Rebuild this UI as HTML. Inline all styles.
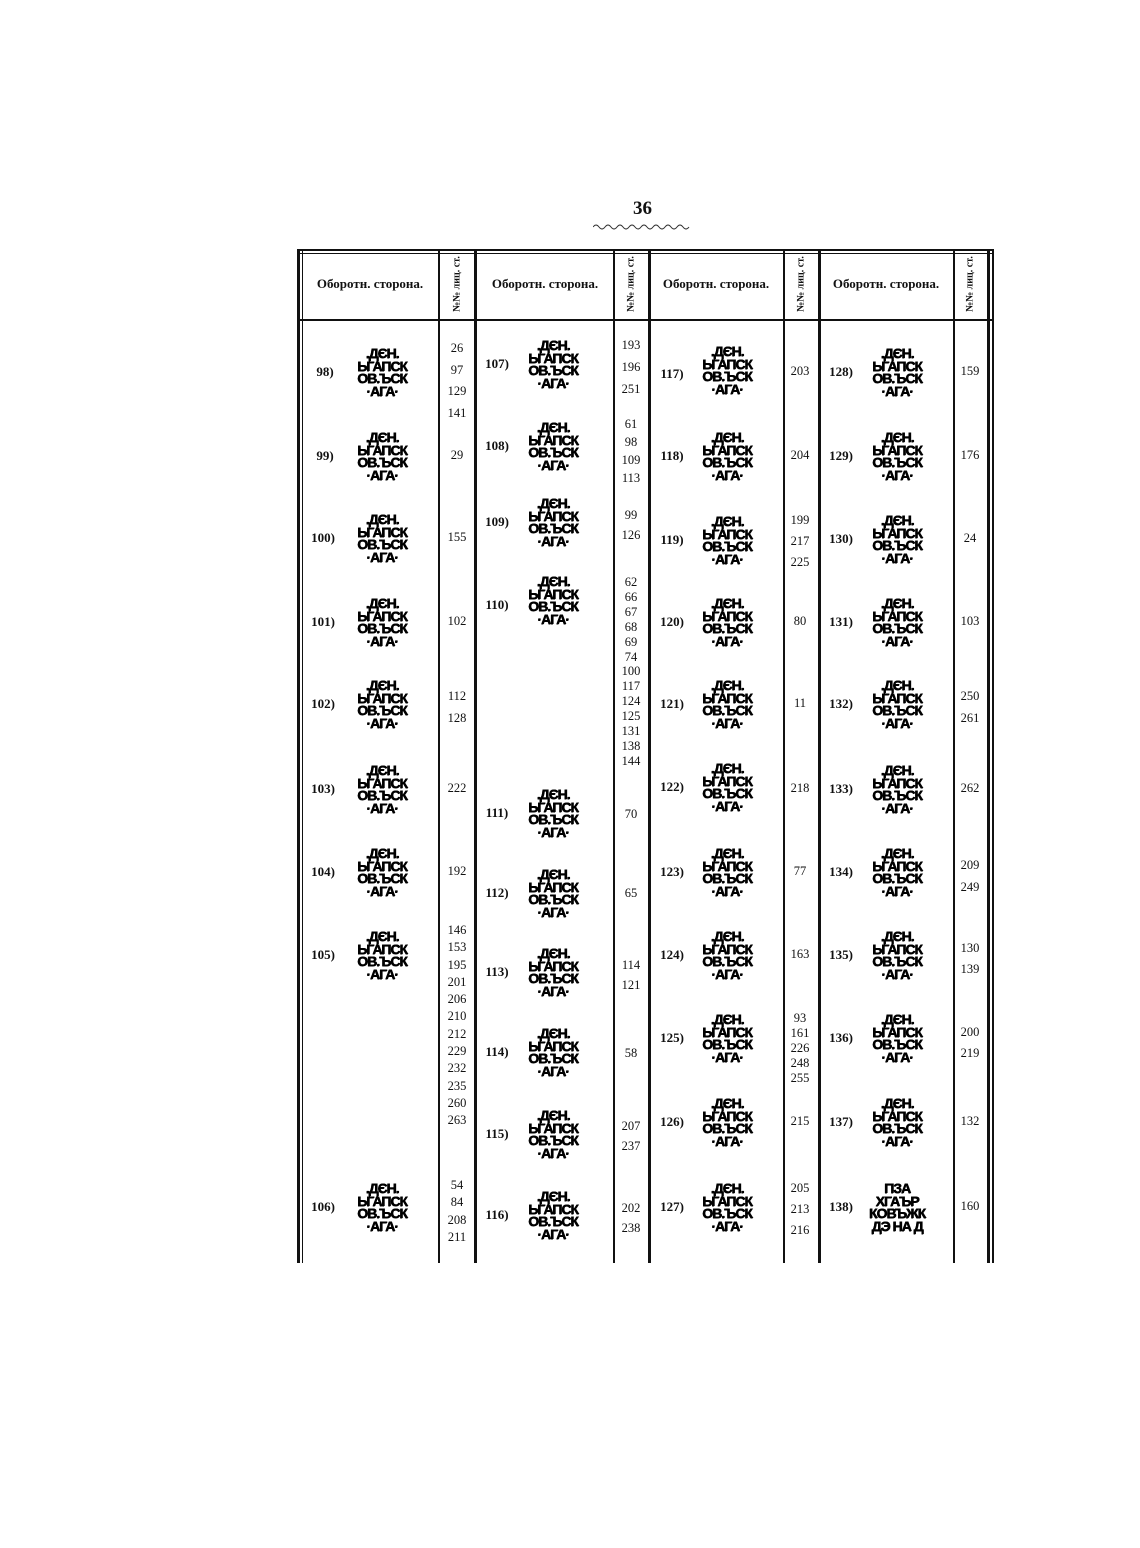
<!DOCTYPE html>
<html><head><meta charset="utf-8"><style>
body{margin:0;width:1140px;height:1548px;background:#fff;position:relative;overflow:hidden;font-family:"Liberation Serif",serif;color:#111}
.v{position:absolute;background:#111;top:249px;height:1014px}
.h{position:absolute;background:#111;left:298px;width:695px}
.t{position:absolute;font-size:13px;font-weight:bold;transform:translate(-50%,-50%);white-space:nowrap}
.r{position:absolute;font-size:10px;font-weight:bold;transform:translate(-50%,-50%) rotate(-90deg);white-space:nowrap}
.l{position:absolute;font-weight:bold;font-size:13px;transform:translate(-50%,-50%)}
.g{position:absolute;font-family:"Liberation Sans",sans-serif;font-weight:bold;font-size:14px;line-height:12.5px;text-align:center;transform:translate(-50%,-50%);letter-spacing:-1px;white-space:nowrap;color:#000;text-shadow:0.6px 0 0 #000,0 0.6px 0 #000}
.n{position:absolute;font-size:12.5px;text-align:center;transform:translateX(-50%);white-space:nowrap}
</style></head><body>
<div style="position:absolute;left:633px;top:198px;font-weight:bold;font-size:19px">36</div>
<svg style="position:absolute;left:593px;top:222px" width="100" height="10"><path d="M0,5 q3,-4 6,0 t6,0 t6,0 t6,0 t6,0 t6,0 t6,0 t6,0 t6,0 t6,0 t6,0 t6,0 t6,0 t6,0 t6,0 t6,0" stroke="#333" fill="none" stroke-width="1"/></svg>
<div class="h" style="top:249px;height:2px"></div>
<div class="h" style="top:253px;height:1px"></div>
<div class="h" style="top:319px;height:2px"></div>
<div class="v" style="left:297px;width:3px"></div>
<div class="v" style="left:302px;width:1px"></div>
<div class="v" style="left:438px;width:2px"></div>
<div class="v" style="left:474px;width:3px"></div>
<div class="v" style="left:613px;width:2px"></div>
<div class="v" style="left:648px;width:3px"></div>
<div class="v" style="left:783px;width:2px"></div>
<div class="v" style="left:818px;width:3px"></div>
<div class="v" style="left:953px;width:2px"></div>
<div class="v" style="left:987px;width:3px"></div>
<div class="v" style="left:992px;width:2px"></div>
<div class="t" style="left:370px;top:284px">Оборотн. сторона.</div>
<div class="t" style="left:545px;top:284px">Оборотн. сторона.</div>
<div class="t" style="left:716px;top:284px">Оборотн. сторона.</div>
<div class="t" style="left:886px;top:284px">Оборотн. сторона.</div>
<div class="r" style="left:457px;top:284px">№№ лиц. ст.</div>
<div class="r" style="left:631px;top:284px">№№ лиц. ст.</div>
<div class="r" style="left:801px;top:284px">№№ лиц. ст.</div>
<div class="r" style="left:970px;top:284px">№№ лиц. ст.</div>

<div class="l" style="left:325px;top:372px">98)</div><div class="g" style="left:382px;top:372px">.ДЄН.<br>ЬГАПСК<br>ОВ.ЪСК<br>·АГА·</div>
<div class="l" style="left:325px;top:456px">99)</div><div class="g" style="left:382px;top:456px">.ДЄН.<br>ЬГАПСК<br>ОВ.ЪСК<br>·АГА·</div>
<div class="l" style="left:323px;top:538px">100)</div><div class="g" style="left:382px;top:538px">.ДЄН.<br>ЬГАПСК<br>ОВ.ЪСК<br>·АГА·</div>
<div class="l" style="left:323px;top:622px">101)</div><div class="g" style="left:382px;top:622px">.ДЄН.<br>ЬГАПСК<br>ОВ.ЪСК<br>·АГА·</div>
<div class="l" style="left:323px;top:704px">102)</div><div class="g" style="left:382px;top:704px">.ДЄН.<br>ЬГАПСК<br>ОВ.ЪСК<br>·АГА·</div>
<div class="l" style="left:323px;top:789px">103)</div><div class="g" style="left:382px;top:789px">.ДЄН.<br>ЬГАПСК<br>ОВ.ЪСК<br>·АГА·</div>
<div class="l" style="left:323px;top:872px">104)</div><div class="g" style="left:382px;top:872px">.ДЄН.<br>ЬГАПСК<br>ОВ.ЪСК<br>·АГА·</div>
<div class="l" style="left:323px;top:955px">105)</div><div class="g" style="left:382px;top:955px">.ДЄН.<br>ЬГАПСК<br>ОВ.ЪСК<br>·АГА·</div>
<div class="l" style="left:323px;top:1207px">106)</div><div class="g" style="left:382px;top:1207px">.ДЄН.<br>ЬГАПСК<br>ОВ.ЪСК<br>·АГА·</div>

<div class="n" style="left:457px;top:338px;line-height:21.7px">26<br>97<br>129<br>141</div>
<div class="n" style="left:457px;top:448px">29</div>
<div class="n" style="left:457px;top:530px">155</div>
<div class="n" style="left:457px;top:614px">102</div>
<div class="n" style="left:457px;top:685px;line-height:22px">112<br>128</div>
<div class="n" style="left:457px;top:781px">222</div>
<div class="n" style="left:457px;top:864px">192</div>
<div class="n" style="left:457px;top:922px;line-height:17.3px">146<br>153<br>195<br>201<br>206<br>210<br>212<br>229<br>232<br>235<br>260<br>263</div>
<div class="n" style="left:457px;top:1177px;line-height:17.3px">54<br>84<br>208<br>211</div>

<div class="l" style="left:497px;top:364px">107)</div><div class="g" style="left:553px;top:364px">.ДЄН.<br>ЬГАПСК<br>ОВ.ЪСК<br>·АГА·</div>
<div class="l" style="left:497px;top:446px">108)</div><div class="g" style="left:553px;top:446px">.ДЄН.<br>ЬГАПСК<br>ОВ.ЪСК<br>·АГА·</div>
<div class="l" style="left:497px;top:522px">109)</div><div class="g" style="left:553px;top:522px">.ДЄН.<br>ЬГАПСК<br>ОВ.ЪСК<br>·АГА·</div>
<div class="l" style="left:497px;top:605px">110)</div><div class="g" style="left:553px;top:600px">.ДЄН.<br>ЬГАПСК<br>ОВ.ЪСК<br>·АГА·</div>
<div class="l" style="left:497px;top:813px">111)</div><div class="g" style="left:553px;top:813px">.ДЄН.<br>ЬГАПСК<br>ОВ.ЪСК<br>·АГА·</div>
<div class="l" style="left:497px;top:893px">112)</div><div class="g" style="left:553px;top:893px">.ДЄН.<br>ЬГАПСК<br>ОВ.ЪСК<br>·АГА·</div>
<div class="l" style="left:497px;top:972px">113)</div><div class="g" style="left:553px;top:972px">.ДЄН.<br>ЬГАПСК<br>ОВ.ЪСК<br>·АГА·</div>
<div class="l" style="left:497px;top:1052px">114)</div><div class="g" style="left:553px;top:1052px">.ДЄН.<br>ЬГАПСК<br>ОВ.ЪСК<br>·АГА·</div>
<div class="l" style="left:497px;top:1134px">115)</div><div class="g" style="left:553px;top:1134px">.ДЄН.<br>ЬГАПСК<br>ОВ.ЪСК<br>·АГА·</div>
<div class="l" style="left:497px;top:1215px">116)</div><div class="g" style="left:553px;top:1215px">.ДЄН.<br>ЬГАПСК<br>ОВ.ЪСК<br>·АГА·</div>

<div class="n" style="left:631px;top:334px;line-height:22px">193<br>196<br>251</div>
<div class="n" style="left:631px;top:415px;line-height:18px">61<br>98<br>109<br>113</div>
<div class="n" style="left:631px;top:505px;line-height:20px">99<br>126</div>
<div class="n" style="left:631px;top:575px;line-height:14.9px">62<br>66<br>67<br>68<br>69<br>74<br>100<br>117<br>124<br>125<br>131<br>138<br>144</div>
<div class="n" style="left:631px;top:807px">70</div>
<div class="n" style="left:631px;top:886px">65</div>
<div class="n" style="left:631px;top:955px;line-height:20px">114<br>121</div>
<div class="n" style="left:631px;top:1046px">58</div>
<div class="n" style="left:631px;top:1116px;line-height:20px">207<br>237</div>
<div class="n" style="left:631px;top:1198px;line-height:20px">202<br>238</div>

<div class="l" style="left:672px;top:374px">117)</div><div class="g" style="left:727px;top:370px">.ДЄН.<br>ЬГАПСК<br>ОВ.ЪСК<br>·АГА·</div>
<div class="l" style="left:672px;top:456px">118)</div><div class="g" style="left:727px;top:456px">.ДЄН.<br>ЬГАПСК<br>ОВ.ЪСК<br>·АГА·</div>
<div class="l" style="left:672px;top:540px">119)</div><div class="g" style="left:727px;top:540px">.ДЄН.<br>ЬГАПСК<br>ОВ.ЪСК<br>·АГА·</div>
<div class="l" style="left:672px;top:622px">120)</div><div class="g" style="left:727px;top:622px">.ДЄН.<br>ЬГАПСК<br>ОВ.ЪСК<br>·АГА·</div>
<div class="l" style="left:672px;top:704px">121)</div><div class="g" style="left:727px;top:704px">.ДЄН.<br>ЬГАПСК<br>ОВ.ЪСК<br>·АГА·</div>
<div class="l" style="left:672px;top:787px">122)</div><div class="g" style="left:727px;top:787px">.ДЄН.<br>ЬГАПСК<br>ОВ.ЪСК<br>·АГА·</div>
<div class="l" style="left:672px;top:872px">123)</div><div class="g" style="left:727px;top:872px">.ДЄН.<br>ЬГАПСК<br>ОВ.ЪСК<br>·АГА·</div>
<div class="l" style="left:672px;top:955px">124)</div><div class="g" style="left:727px;top:955px">.ДЄН.<br>ЬГАПСК<br>ОВ.ЪСК<br>·АГА·</div>
<div class="l" style="left:672px;top:1038px">125)</div><div class="g" style="left:727px;top:1038px">.ДЄН.<br>ЬГАПСК<br>ОВ.ЪСК<br>·АГА·</div>
<div class="l" style="left:672px;top:1122px">126)</div><div class="g" style="left:727px;top:1122px">.ДЄН.<br>ЬГАПСК<br>ОВ.ЪСК<br>·АГА·</div>
<div class="l" style="left:672px;top:1207px">127)</div><div class="g" style="left:727px;top:1207px">.ДЄН.<br>ЬГАПСК<br>ОВ.ЪСК<br>·АГА·</div>

<div class="n" style="left:800px;top:364px">203</div>
<div class="n" style="left:800px;top:448px">204</div>
<div class="n" style="left:800px;top:510px;line-height:21px">199<br>217<br>225</div>
<div class="n" style="left:800px;top:614px">80</div>
<div class="n" style="left:800px;top:696px">11</div>
<div class="n" style="left:800px;top:781px">218</div>
<div class="n" style="left:800px;top:864px">77</div>
<div class="n" style="left:800px;top:947px">163</div>
<div class="n" style="left:800px;top:1011px;line-height:15px">93<br>161<br>226<br>248<br>255</div>
<div class="n" style="left:800px;top:1114px">215</div>
<div class="n" style="left:800px;top:1178px;line-height:21px">205<br>213<br>216</div>

<div class="l" style="left:841px;top:372px">128)</div><div class="g" style="left:897px;top:372px">.ДЄН.<br>ЬГАПСК<br>ОВ.ЪСК<br>·АГА·</div>
<div class="l" style="left:841px;top:456px">129)</div><div class="g" style="left:897px;top:456px">.ДЄН.<br>ЬГАПСК<br>ОВ.ЪСК<br>·АГА·</div>
<div class="l" style="left:841px;top:539px">130)</div><div class="g" style="left:897px;top:539px">.ДЄН.<br>ЬГАПСК<br>ОВ.ЪСК<br>·АГА·</div>
<div class="l" style="left:841px;top:622px">131)</div><div class="g" style="left:897px;top:622px">.ДЄН.<br>ЬГАПСК<br>ОВ.ЪСК<br>·АГА·</div>
<div class="l" style="left:841px;top:704px">132)</div><div class="g" style="left:897px;top:704px">.ДЄН.<br>ЬГАПСК<br>ОВ.ЪСК<br>·АГА·</div>
<div class="l" style="left:841px;top:789px">133)</div><div class="g" style="left:897px;top:789px">.ДЄН.<br>ЬГАПСК<br>ОВ.ЪСК<br>·АГА·</div>
<div class="l" style="left:841px;top:872px">134)</div><div class="g" style="left:897px;top:872px">.ДЄН.<br>ЬГАПСК<br>ОВ.ЪСК<br>·АГА·</div>
<div class="l" style="left:841px;top:955px">135)</div><div class="g" style="left:897px;top:955px">.ДЄН.<br>ЬГАПСК<br>ОВ.ЪСК<br>·АГА·</div>
<div class="l" style="left:841px;top:1038px">136)</div><div class="g" style="left:897px;top:1038px">.ДЄН.<br>ЬГАПСК<br>ОВ.ЪСК<br>·АГА·</div>
<div class="l" style="left:841px;top:1122px">137)</div><div class="g" style="left:897px;top:1122px">.ДЄН.<br>ЬГАПСК<br>ОВ.ЪСК<br>·АГА·</div>
<div class="l" style="left:841px;top:1207px">138)</div><div class="g" style="left:897px;top:1207px">ПЗА<br>ХГАЪР<br>КОВЪЖК<br>ДЭ НА Д</div>

<div class="n" style="left:970px;top:364px">159</div>
<div class="n" style="left:970px;top:448px">176</div>
<div class="n" style="left:970px;top:531px">24</div>
<div class="n" style="left:970px;top:614px">103</div>
<div class="n" style="left:970px;top:685px;line-height:22px">250<br>261</div>
<div class="n" style="left:970px;top:781px">262</div>
<div class="n" style="left:970px;top:854px;line-height:22px">209<br>249</div>
<div class="n" style="left:970px;top:938px;line-height:21px">130<br>139</div>
<div class="n" style="left:970px;top:1022px;line-height:21px">200<br>219</div>
<div class="n" style="left:970px;top:1114px">132</div>
<div class="n" style="left:970px;top:1199px">160</div>
</body></html>
